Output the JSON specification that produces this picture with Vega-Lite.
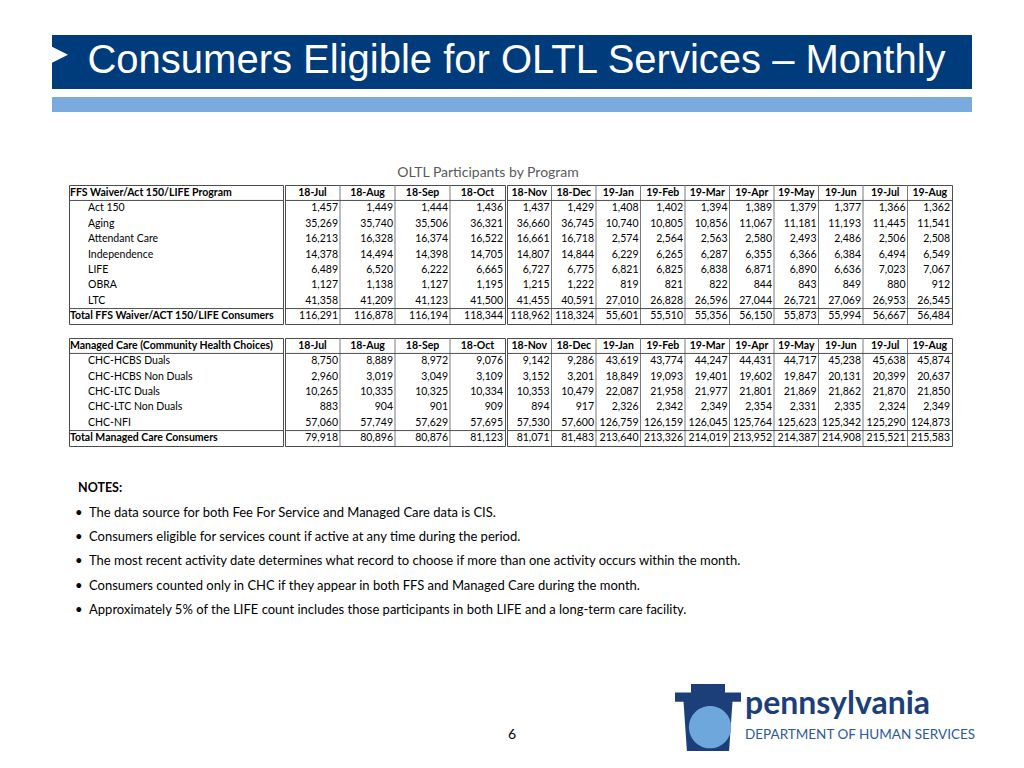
{
 "$schema": "https://vega.github.io/schema/vega-lite/v6.json",
 "padding": {"left": 52, "top": 35, "right": 0, "bottom": 0},
 "background": "white",
 "spacing": 0,
 "config": {
  "view": {"stroke": null},
  "concat": {"spacing": 0},
  "text": {"font": "Lato", "fontSize": 10.5, "baseline": "middle", "fill": "#000000"},
  "rule": {"strokeWidth": 1}
 },
 "datasets": {
  "cells": [
   {"g":"F","r":"Act 150","m":"18-Jul","v":1457},{"g":"F","r":"Act 150","m":"18-Aug","v":1449},{"g":"F","r":"Act 150","m":"18-Sep","v":1444},{"g":"F","r":"Act 150","m":"18-Oct","v":1436},{"g":"F","r":"Act 150","m":"18-Nov","v":1437},{"g":"F","r":"Act 150","m":"18-Dec","v":1429},{"g":"F","r":"Act 150","m":"19-Jan","v":1408},{"g":"F","r":"Act 150","m":"19-Feb","v":1402},{"g":"F","r":"Act 150","m":"19-Mar","v":1394},{"g":"F","r":"Act 150","m":"19-Apr","v":1389},{"g":"F","r":"Act 150","m":"19-May","v":1379},{"g":"F","r":"Act 150","m":"19-Jun","v":1377},{"g":"F","r":"Act 150","m":"19-Jul","v":1366},{"g":"F","r":"Act 150","m":"19-Aug","v":1362},
   {"g":"F","r":"Aging","m":"18-Jul","v":35269},{"g":"F","r":"Aging","m":"18-Aug","v":35740},{"g":"F","r":"Aging","m":"18-Sep","v":35506},{"g":"F","r":"Aging","m":"18-Oct","v":36321},{"g":"F","r":"Aging","m":"18-Nov","v":36660},{"g":"F","r":"Aging","m":"18-Dec","v":36745},{"g":"F","r":"Aging","m":"19-Jan","v":10740},{"g":"F","r":"Aging","m":"19-Feb","v":10805},{"g":"F","r":"Aging","m":"19-Mar","v":10856},{"g":"F","r":"Aging","m":"19-Apr","v":11067},{"g":"F","r":"Aging","m":"19-May","v":11181},{"g":"F","r":"Aging","m":"19-Jun","v":11193},{"g":"F","r":"Aging","m":"19-Jul","v":11445},{"g":"F","r":"Aging","m":"19-Aug","v":11541},
   {"g":"F","r":"Attendant Care","m":"18-Jul","v":16213},{"g":"F","r":"Attendant Care","m":"18-Aug","v":16328},{"g":"F","r":"Attendant Care","m":"18-Sep","v":16374},{"g":"F","r":"Attendant Care","m":"18-Oct","v":16522},{"g":"F","r":"Attendant Care","m":"18-Nov","v":16661},{"g":"F","r":"Attendant Care","m":"18-Dec","v":16718},{"g":"F","r":"Attendant Care","m":"19-Jan","v":2574},{"g":"F","r":"Attendant Care","m":"19-Feb","v":2564},{"g":"F","r":"Attendant Care","m":"19-Mar","v":2563},{"g":"F","r":"Attendant Care","m":"19-Apr","v":2580},{"g":"F","r":"Attendant Care","m":"19-May","v":2493},{"g":"F","r":"Attendant Care","m":"19-Jun","v":2486},{"g":"F","r":"Attendant Care","m":"19-Jul","v":2506},{"g":"F","r":"Attendant Care","m":"19-Aug","v":2508},
   {"g":"F","r":"Independence","m":"18-Jul","v":14378},{"g":"F","r":"Independence","m":"18-Aug","v":14494},{"g":"F","r":"Independence","m":"18-Sep","v":14398},{"g":"F","r":"Independence","m":"18-Oct","v":14705},{"g":"F","r":"Independence","m":"18-Nov","v":14807},{"g":"F","r":"Independence","m":"18-Dec","v":14844},{"g":"F","r":"Independence","m":"19-Jan","v":6229},{"g":"F","r":"Independence","m":"19-Feb","v":6265},{"g":"F","r":"Independence","m":"19-Mar","v":6287},{"g":"F","r":"Independence","m":"19-Apr","v":6355},{"g":"F","r":"Independence","m":"19-May","v":6366},{"g":"F","r":"Independence","m":"19-Jun","v":6384},{"g":"F","r":"Independence","m":"19-Jul","v":6494},{"g":"F","r":"Independence","m":"19-Aug","v":6549},
   {"g":"F","r":"LIFE","m":"18-Jul","v":6489},{"g":"F","r":"LIFE","m":"18-Aug","v":6520},{"g":"F","r":"LIFE","m":"18-Sep","v":6222},{"g":"F","r":"LIFE","m":"18-Oct","v":6665},{"g":"F","r":"LIFE","m":"18-Nov","v":6727},{"g":"F","r":"LIFE","m":"18-Dec","v":6775},{"g":"F","r":"LIFE","m":"19-Jan","v":6821},{"g":"F","r":"LIFE","m":"19-Feb","v":6825},{"g":"F","r":"LIFE","m":"19-Mar","v":6838},{"g":"F","r":"LIFE","m":"19-Apr","v":6871},{"g":"F","r":"LIFE","m":"19-May","v":6890},{"g":"F","r":"LIFE","m":"19-Jun","v":6636},{"g":"F","r":"LIFE","m":"19-Jul","v":7023},{"g":"F","r":"LIFE","m":"19-Aug","v":7067},
   {"g":"F","r":"OBRA","m":"18-Jul","v":1127},{"g":"F","r":"OBRA","m":"18-Aug","v":1138},{"g":"F","r":"OBRA","m":"18-Sep","v":1127},{"g":"F","r":"OBRA","m":"18-Oct","v":1195},{"g":"F","r":"OBRA","m":"18-Nov","v":1215},{"g":"F","r":"OBRA","m":"18-Dec","v":1222},{"g":"F","r":"OBRA","m":"19-Jan","v":819},{"g":"F","r":"OBRA","m":"19-Feb","v":821},{"g":"F","r":"OBRA","m":"19-Mar","v":822},{"g":"F","r":"OBRA","m":"19-Apr","v":844},{"g":"F","r":"OBRA","m":"19-May","v":843},{"g":"F","r":"OBRA","m":"19-Jun","v":849},{"g":"F","r":"OBRA","m":"19-Jul","v":880},{"g":"F","r":"OBRA","m":"19-Aug","v":912},
   {"g":"F","r":"LTC","m":"18-Jul","v":41358},{"g":"F","r":"LTC","m":"18-Aug","v":41209},{"g":"F","r":"LTC","m":"18-Sep","v":41123},{"g":"F","r":"LTC","m":"18-Oct","v":41500},{"g":"F","r":"LTC","m":"18-Nov","v":41455},{"g":"F","r":"LTC","m":"18-Dec","v":40591},{"g":"F","r":"LTC","m":"19-Jan","v":27010},{"g":"F","r":"LTC","m":"19-Feb","v":26828},{"g":"F","r":"LTC","m":"19-Mar","v":26596},{"g":"F","r":"LTC","m":"19-Apr","v":27044},{"g":"F","r":"LTC","m":"19-May","v":26721},{"g":"F","r":"LTC","m":"19-Jun","v":27069},{"g":"F","r":"LTC","m":"19-Jul","v":26953},{"g":"F","r":"LTC","m":"19-Aug","v":26545},
   {"g":"F","r":"Total FFS Waiver/ACT 150/LIFE Consumers","m":"18-Jul","v":116291},{"g":"F","r":"Total FFS Waiver/ACT 150/LIFE Consumers","m":"18-Aug","v":116878},{"g":"F","r":"Total FFS Waiver/ACT 150/LIFE Consumers","m":"18-Sep","v":116194},{"g":"F","r":"Total FFS Waiver/ACT 150/LIFE Consumers","m":"18-Oct","v":118344},{"g":"F","r":"Total FFS Waiver/ACT 150/LIFE Consumers","m":"18-Nov","v":118962},{"g":"F","r":"Total FFS Waiver/ACT 150/LIFE Consumers","m":"18-Dec","v":118324},{"g":"F","r":"Total FFS Waiver/ACT 150/LIFE Consumers","m":"19-Jan","v":55601},{"g":"F","r":"Total FFS Waiver/ACT 150/LIFE Consumers","m":"19-Feb","v":55510},{"g":"F","r":"Total FFS Waiver/ACT 150/LIFE Consumers","m":"19-Mar","v":55356},{"g":"F","r":"Total FFS Waiver/ACT 150/LIFE Consumers","m":"19-Apr","v":56150},{"g":"F","r":"Total FFS Waiver/ACT 150/LIFE Consumers","m":"19-May","v":55873},{"g":"F","r":"Total FFS Waiver/ACT 150/LIFE Consumers","m":"19-Jun","v":55994},{"g":"F","r":"Total FFS Waiver/ACT 150/LIFE Consumers","m":"19-Jul","v":56667},{"g":"F","r":"Total FFS Waiver/ACT 150/LIFE Consumers","m":"19-Aug","v":56484},
   {"g":"M","r":"CHC-HCBS Duals","m":"18-Jul","v":8750},{"g":"M","r":"CHC-HCBS Duals","m":"18-Aug","v":8889},{"g":"M","r":"CHC-HCBS Duals","m":"18-Sep","v":8972},{"g":"M","r":"CHC-HCBS Duals","m":"18-Oct","v":9076},{"g":"M","r":"CHC-HCBS Duals","m":"18-Nov","v":9142},{"g":"M","r":"CHC-HCBS Duals","m":"18-Dec","v":9286},{"g":"M","r":"CHC-HCBS Duals","m":"19-Jan","v":43619},{"g":"M","r":"CHC-HCBS Duals","m":"19-Feb","v":43774},{"g":"M","r":"CHC-HCBS Duals","m":"19-Mar","v":44247},{"g":"M","r":"CHC-HCBS Duals","m":"19-Apr","v":44431},{"g":"M","r":"CHC-HCBS Duals","m":"19-May","v":44717},{"g":"M","r":"CHC-HCBS Duals","m":"19-Jun","v":45238},{"g":"M","r":"CHC-HCBS Duals","m":"19-Jul","v":45638},{"g":"M","r":"CHC-HCBS Duals","m":"19-Aug","v":45874},
   {"g":"M","r":"CHC-HCBS Non Duals","m":"18-Jul","v":2960},{"g":"M","r":"CHC-HCBS Non Duals","m":"18-Aug","v":3019},{"g":"M","r":"CHC-HCBS Non Duals","m":"18-Sep","v":3049},{"g":"M","r":"CHC-HCBS Non Duals","m":"18-Oct","v":3109},{"g":"M","r":"CHC-HCBS Non Duals","m":"18-Nov","v":3152},{"g":"M","r":"CHC-HCBS Non Duals","m":"18-Dec","v":3201},{"g":"M","r":"CHC-HCBS Non Duals","m":"19-Jan","v":18849},{"g":"M","r":"CHC-HCBS Non Duals","m":"19-Feb","v":19093},{"g":"M","r":"CHC-HCBS Non Duals","m":"19-Mar","v":19401},{"g":"M","r":"CHC-HCBS Non Duals","m":"19-Apr","v":19602},{"g":"M","r":"CHC-HCBS Non Duals","m":"19-May","v":19847},{"g":"M","r":"CHC-HCBS Non Duals","m":"19-Jun","v":20131},{"g":"M","r":"CHC-HCBS Non Duals","m":"19-Jul","v":20399},{"g":"M","r":"CHC-HCBS Non Duals","m":"19-Aug","v":20637},
   {"g":"M","r":"CHC-LTC Duals","m":"18-Jul","v":10265},{"g":"M","r":"CHC-LTC Duals","m":"18-Aug","v":10335},{"g":"M","r":"CHC-LTC Duals","m":"18-Sep","v":10325},{"g":"M","r":"CHC-LTC Duals","m":"18-Oct","v":10334},{"g":"M","r":"CHC-LTC Duals","m":"18-Nov","v":10353},{"g":"M","r":"CHC-LTC Duals","m":"18-Dec","v":10479},{"g":"M","r":"CHC-LTC Duals","m":"19-Jan","v":22087},{"g":"M","r":"CHC-LTC Duals","m":"19-Feb","v":21958},{"g":"M","r":"CHC-LTC Duals","m":"19-Mar","v":21977},{"g":"M","r":"CHC-LTC Duals","m":"19-Apr","v":21801},{"g":"M","r":"CHC-LTC Duals","m":"19-May","v":21869},{"g":"M","r":"CHC-LTC Duals","m":"19-Jun","v":21862},{"g":"M","r":"CHC-LTC Duals","m":"19-Jul","v":21870},{"g":"M","r":"CHC-LTC Duals","m":"19-Aug","v":21850},
   {"g":"M","r":"CHC-LTC Non Duals","m":"18-Jul","v":883},{"g":"M","r":"CHC-LTC Non Duals","m":"18-Aug","v":904},{"g":"M","r":"CHC-LTC Non Duals","m":"18-Sep","v":901},{"g":"M","r":"CHC-LTC Non Duals","m":"18-Oct","v":909},{"g":"M","r":"CHC-LTC Non Duals","m":"18-Nov","v":894},{"g":"M","r":"CHC-LTC Non Duals","m":"18-Dec","v":917},{"g":"M","r":"CHC-LTC Non Duals","m":"19-Jan","v":2326},{"g":"M","r":"CHC-LTC Non Duals","m":"19-Feb","v":2342},{"g":"M","r":"CHC-LTC Non Duals","m":"19-Mar","v":2349},{"g":"M","r":"CHC-LTC Non Duals","m":"19-Apr","v":2354},{"g":"M","r":"CHC-LTC Non Duals","m":"19-May","v":2331},{"g":"M","r":"CHC-LTC Non Duals","m":"19-Jun","v":2335},{"g":"M","r":"CHC-LTC Non Duals","m":"19-Jul","v":2324},{"g":"M","r":"CHC-LTC Non Duals","m":"19-Aug","v":2349},
   {"g":"M","r":"CHC-NFI","m":"18-Jul","v":57060},{"g":"M","r":"CHC-NFI","m":"18-Aug","v":57749},{"g":"M","r":"CHC-NFI","m":"18-Sep","v":57629},{"g":"M","r":"CHC-NFI","m":"18-Oct","v":57695},{"g":"M","r":"CHC-NFI","m":"18-Nov","v":57530},{"g":"M","r":"CHC-NFI","m":"18-Dec","v":57600},{"g":"M","r":"CHC-NFI","m":"19-Jan","v":126759},{"g":"M","r":"CHC-NFI","m":"19-Feb","v":126159},{"g":"M","r":"CHC-NFI","m":"19-Mar","v":126045},{"g":"M","r":"CHC-NFI","m":"19-Apr","v":125764},{"g":"M","r":"CHC-NFI","m":"19-May","v":125623},{"g":"M","r":"CHC-NFI","m":"19-Jun","v":125342},{"g":"M","r":"CHC-NFI","m":"19-Jul","v":125290},{"g":"M","r":"CHC-NFI","m":"19-Aug","v":124873},
   {"g":"M","r":"Total Managed Care Consumers","m":"18-Jul","v":79918},{"g":"M","r":"Total Managed Care Consumers","m":"18-Aug","v":80896},{"g":"M","r":"Total Managed Care Consumers","m":"18-Sep","v":80876},{"g":"M","r":"Total Managed Care Consumers","m":"18-Oct","v":81123},{"g":"M","r":"Total Managed Care Consumers","m":"18-Nov","v":81071},{"g":"M","r":"Total Managed Care Consumers","m":"18-Dec","v":81483},{"g":"M","r":"Total Managed Care Consumers","m":"19-Jan","v":213640},{"g":"M","r":"Total Managed Care Consumers","m":"19-Feb","v":213326},{"g":"M","r":"Total Managed Care Consumers","m":"19-Mar","v":214019},{"g":"M","r":"Total Managed Care Consumers","m":"19-Apr","v":213952},{"g":"M","r":"Total Managed Care Consumers","m":"19-May","v":214387},{"g":"M","r":"Total Managed Care Consumers","m":"19-Jun","v":214908},{"g":"M","r":"Total Managed Care Consumers","m":"19-Jul","v":215521},{"g":"M","r":"Total Managed Care Consumers","m":"19-Aug","v":215583}
  ],
  "notes": [
   {"i":0,"t":"NOTES:"},
   {"i":1,"t":"•\u2002The data source for both Fee For Service and Managed Care data is CIS."},
   {"i":2,"t":"•\u2002Consumers eligible for services count if active at any time during the period."},
   {"i":3,"t":"•\u2002The most recent activity date determines what record to choose if more than one activity occurs within the month."},
   {"i":4,"t":"•\u2002Consumers counted only in CHC if they appear in both FFS and Managed Care during the month."},
   {"i":5,"t":"•\u2002Approximately 5% of the LIFE count includes those participants in both LIFE and a long-term care facility."}
  ]
 },
 "vconcat": [
  {"hconcat": [
    {"width": 16, "height": 54, "view": {"fill": "#003b7b", "stroke": null}, "data": {"values": [{}]},
     "mark": {"type": "point", "shape": "M-1,-1.9L1,-0.9L-1,0.1Z", "size": 256, "filled": true, "fill": "#ffffff", "opacity": 1, "strokeWidth": 0}},
    {"width": 904, "height": 54, "view": {"fill": "#003b7b", "stroke": null}, "data": {"values": [{}]},
     "mark": {"type": "text", "text": "Consumers Eligible for OLTL Services – Monthly", "font": "Liberation Sans", "fontSize": 40, "fill": "#ffffff", "dx": -3.5, "dy": -1}}
   ], "spacing": 0},
  {"width": 920, "height": 8, "data": {"values": []}, "mark": {"type": "text", "text": ""}},
  {"width": 920, "height": 15, "view": {"fill": "#7aaade", "stroke": null}, "data": {"values": []}, "mark": {"type": "text", "text": ""}},
  {"width": 920, "height": 72, "data": {"values": [{}]}, "mark": {"type": "text", "text": "OLTL Participants by Program", "fontSize": 14, "fill": "#595959", "dx": -24, "dy": 25}},
  {"hconcat": [
    {"width": 16, "height": 139, "data": {"values": []}, "mark": {"type": "text", "text": ""}},
    {"width": 214, "height": 139, "view": {"stroke": "#4d4d4d"}, "data": {"name": "cells"},
     "layer": [
      {"transform": [{"filter": "datum.g=='F' && datum.m=='18-Jul' && datum.r!='Total FFS Waiver/ACT 150/LIFE Consumers'"}],
       "mark": {"type": "text", "align": "left", "dx": 19},
       "encoding": {
        "x": {"datum": "L", "type": "nominal", "axis": null, "bandPosition": 0, "scale": {"type": "band", "paddingInner": 0, "paddingOuter": 0}},
        "y": {"field": "r", "type": "nominal", "axis": null, "scale": {"type": "band", "domain": ["H","Act 150","Aging","Attendant Care","Independence","LIFE","OBRA","LTC","Total FFS Waiver/ACT 150/LIFE Consumers"], "paddingInner": 0, "paddingOuter": 0}},
        "text": {"field": "r"}}},
      {"transform": [{"filter": "datum.g=='F' && datum.m=='18-Jul' && datum.r=='Total FFS Waiver/ACT 150/LIFE Consumers'"}],
       "mark": {"type": "text", "align": "left", "dx": 1, "fontWeight": "bold"},
       "encoding": {
        "x": {"datum": "L", "type": "nominal", "axis": null, "bandPosition": 0},
        "y": {"field": "r", "type": "nominal", "axis": null},
        "text": {"field": "r"}}},
      {"data": {"values": [{"t": "FFS Waiver/Act 150/LIFE Program"}]},
       "mark": {"type": "text", "align": "left", "dx": 1, "fontWeight": "bold"},
       "encoding": {
        "x": {"datum": "L", "type": "nominal", "axis": null, "bandPosition": 0},
        "y": {"datum": "H", "type": "nominal", "axis": null},
        "text": {"field": "t"}}},
      {"data": {"values": [{}]}, "mark": {"type": "rule", "color": "#4d4d4d"}, "encoding": {"y": {"datum": "H", "type": "nominal", "bandPosition": 1, "axis": null}}},
      {"data": {"values": [{}]}, "mark": {"type": "rule", "color": "#4d4d4d"}, "encoding": {"y": {"datum": "Total FFS Waiver/ACT 150/LIFE Consumers", "type": "nominal", "bandPosition": 0, "axis": null}}}
     ]},
    {"width": 220, "height": 139, "view": {"stroke": "#4d4d4d"}, "data": {"name": "cells"},
     "layer": [
      {"transform": [{"filter": "datum.g=='F' && indexof(['18-Jul','18-Aug','18-Sep','18-Oct'], datum.m)>=0"}],
       "mark": {"type": "text", "align": "right", "dx": -2},
       "encoding": {
        "x": {"field": "m", "type": "nominal", "axis": null, "bandPosition": 1, "scale": {"type": "band", "domain": ["18-Jul","18-Aug","18-Sep","18-Oct"], "paddingInner": 0, "paddingOuter": 0}},
        "y": {"field": "r", "type": "nominal", "axis": null, "scale": {"type": "band", "domain": ["H","Act 150","Aging","Attendant Care","Independence","LIFE","OBRA","LTC","Total FFS Waiver/ACT 150/LIFE Consumers"], "paddingInner": 0, "paddingOuter": 0}},
        "text": {"field": "v", "type": "quantitative", "format": ","}}},
      {"transform": [{"filter": "datum.g=='F' && datum.r=='Act 150' && indexof(['18-Jul','18-Aug','18-Sep','18-Oct'], datum.m)>=0"}],
       "mark": {"type": "text", "fontWeight": "bold"},
       "encoding": {
        "x": {"field": "m", "type": "nominal", "axis": null, "bandPosition": 0.5},
        "y": {"datum": "H", "type": "nominal", "axis": null},
        "text": {"field": "m"}}},
      {"transform": [{"filter": "datum.g=='F' && datum.r=='Act 150' && indexof(['18-Jul','18-Aug','18-Sep','18-Oct'], datum.m)>=1"}],
       "mark": {"type": "rule", "color": "#7a7a7a"},
       "encoding": {"x": {"field": "m", "type": "nominal", "axis": null, "bandPosition": 0}}},
      {"data": {"values": [{}]}, "mark": {"type": "rule", "color": "#4d4d4d"}, "encoding": {"y": {"datum": "H", "type": "nominal", "bandPosition": 1, "axis": null}}},
      {"data": {"values": [{}]}, "mark": {"type": "rule", "color": "#4d4d4d"}, "encoding": {"y": {"datum": "Total FFS Waiver/ACT 150/LIFE Consumers", "type": "nominal", "bandPosition": 0, "axis": null}}}
     ]},
    {"width": 445, "height": 139, "view": {"stroke": "#4d4d4d"}, "data": {"name": "cells"},
     "layer": [
      {"transform": [{"filter": "datum.g=='F' && indexof(['18-Nov','18-Dec','19-Jan','19-Feb','19-Mar','19-Apr','19-May','19-Jun','19-Jul','19-Aug'], datum.m)>=0"}],
       "mark": {"type": "text", "align": "right", "dx": -2},
       "encoding": {
        "x": {"field": "m", "type": "nominal", "axis": null, "bandPosition": 1, "scale": {"type": "band", "domain": ["18-Nov","18-Dec","19-Jan","19-Feb","19-Mar","19-Apr","19-May","19-Jun","19-Jul","19-Aug"], "paddingInner": 0, "paddingOuter": 0}},
        "y": {"field": "r", "type": "nominal", "axis": null, "scale": {"type": "band", "domain": ["H","Act 150","Aging","Attendant Care","Independence","LIFE","OBRA","LTC","Total FFS Waiver/ACT 150/LIFE Consumers"], "paddingInner": 0, "paddingOuter": 0}},
        "text": {"field": "v", "type": "quantitative", "format": ","}}},
      {"transform": [{"filter": "datum.g=='F' && datum.r=='Act 150' && indexof(['18-Nov','18-Dec','19-Jan','19-Feb','19-Mar','19-Apr','19-May','19-Jun','19-Jul','19-Aug'], datum.m)>=0"}],
       "mark": {"type": "text", "fontWeight": "bold"},
       "encoding": {
        "x": {"field": "m", "type": "nominal", "axis": null, "bandPosition": 0.5},
        "y": {"datum": "H", "type": "nominal", "axis": null},
        "text": {"field": "m"}}},
      {"transform": [{"filter": "datum.g=='F' && datum.r=='Act 150' && indexof(['18-Nov','18-Dec','19-Jan','19-Feb','19-Mar','19-Apr','19-May','19-Jun','19-Jul','19-Aug'], datum.m)>=1"}],
       "mark": {"type": "rule", "color": "#7a7a7a"},
       "encoding": {"x": {"field": "m", "type": "nominal", "axis": null, "bandPosition": 0}}},
      {"data": {"values": [{}]}, "mark": {"type": "rule", "color": "#4d4d4d"}, "encoding": {"y": {"datum": "H", "type": "nominal", "bandPosition": 1, "axis": null}}},
      {"data": {"values": [{}]}, "mark": {"type": "rule", "color": "#4d4d4d"}, "encoding": {"y": {"datum": "Total FFS Waiver/ACT 150/LIFE Consumers", "type": "nominal", "bandPosition": 0, "axis": null}}}
     ]}
   ], "spacing": 0},
  {"width": 920, "height": 12, "data": {"values": []}, "mark": {"type": "text", "text": ""}},
  {"hconcat": [
    {"width": 16, "height": 108, "data": {"values": []}, "mark": {"type": "text", "text": ""}},
    {"width": 214, "height": 108, "view": {"stroke": "#4d4d4d"}, "data": {"name": "cells"},
     "layer": [
      {"transform": [{"filter": "datum.g=='M' && datum.m=='18-Jul' && datum.r!='Total Managed Care Consumers'"}],
       "mark": {"type": "text", "align": "left", "dx": 19},
       "encoding": {
        "x": {"datum": "L", "type": "nominal", "axis": null, "bandPosition": 0, "scale": {"type": "band", "paddingInner": 0, "paddingOuter": 0}},
        "y": {"field": "r", "type": "nominal", "axis": null, "scale": {"type": "band", "domain": ["H","CHC-HCBS Duals","CHC-HCBS Non Duals","CHC-LTC Duals","CHC-LTC Non Duals","CHC-NFI","Total Managed Care Consumers"], "paddingInner": 0, "paddingOuter": 0}},
        "text": {"field": "r"}}},
      {"transform": [{"filter": "datum.g=='M' && datum.m=='18-Jul' && datum.r=='Total Managed Care Consumers'"}],
       "mark": {"type": "text", "align": "left", "dx": 1, "fontWeight": "bold"},
       "encoding": {
        "x": {"datum": "L", "type": "nominal", "axis": null, "bandPosition": 0},
        "y": {"field": "r", "type": "nominal", "axis": null},
        "text": {"field": "r"}}},
      {"data": {"values": [{"t": "Managed Care (Community Health Choices)"}]},
       "mark": {"type": "text", "align": "left", "dx": 1, "fontWeight": "bold"},
       "encoding": {
        "x": {"datum": "L", "type": "nominal", "axis": null, "bandPosition": 0},
        "y": {"datum": "H", "type": "nominal", "axis": null},
        "text": {"field": "t"}}},
      {"data": {"values": [{}]}, "mark": {"type": "rule", "color": "#4d4d4d"}, "encoding": {"y": {"datum": "H", "type": "nominal", "bandPosition": 1, "axis": null}}},
      {"data": {"values": [{}]}, "mark": {"type": "rule", "color": "#4d4d4d"}, "encoding": {"y": {"datum": "Total Managed Care Consumers", "type": "nominal", "bandPosition": 0, "axis": null}}}
     ]},
    {"width": 220, "height": 108, "view": {"stroke": "#4d4d4d"}, "data": {"name": "cells"},
     "layer": [
      {"transform": [{"filter": "datum.g=='M' && indexof(['18-Jul','18-Aug','18-Sep','18-Oct'], datum.m)>=0"}],
       "mark": {"type": "text", "align": "right", "dx": -2},
       "encoding": {
        "x": {"field": "m", "type": "nominal", "axis": null, "bandPosition": 1, "scale": {"type": "band", "domain": ["18-Jul","18-Aug","18-Sep","18-Oct"], "paddingInner": 0, "paddingOuter": 0}},
        "y": {"field": "r", "type": "nominal", "axis": null, "scale": {"type": "band", "domain": ["H","CHC-HCBS Duals","CHC-HCBS Non Duals","CHC-LTC Duals","CHC-LTC Non Duals","CHC-NFI","Total Managed Care Consumers"], "paddingInner": 0, "paddingOuter": 0}},
        "text": {"field": "v", "type": "quantitative", "format": ","}}},
      {"transform": [{"filter": "datum.g=='M' && datum.r=='CHC-NFI' && indexof(['18-Jul','18-Aug','18-Sep','18-Oct'], datum.m)>=0"}],
       "mark": {"type": "text", "fontWeight": "bold"},
       "encoding": {
        "x": {"field": "m", "type": "nominal", "axis": null, "bandPosition": 0.5},
        "y": {"datum": "H", "type": "nominal", "axis": null},
        "text": {"field": "m"}}},
      {"transform": [{"filter": "datum.g=='M' && datum.r=='CHC-NFI' && indexof(['18-Jul','18-Aug','18-Sep','18-Oct'], datum.m)>=1"}],
       "mark": {"type": "rule", "color": "#7a7a7a"},
       "encoding": {"x": {"field": "m", "type": "nominal", "axis": null, "bandPosition": 0}}},
      {"data": {"values": [{}]}, "mark": {"type": "rule", "color": "#4d4d4d"}, "encoding": {"y": {"datum": "H", "type": "nominal", "bandPosition": 1, "axis": null}}},
      {"data": {"values": [{}]}, "mark": {"type": "rule", "color": "#4d4d4d"}, "encoding": {"y": {"datum": "Total Managed Care Consumers", "type": "nominal", "bandPosition": 0, "axis": null}}}
     ]},
    {"width": 445, "height": 108, "view": {"stroke": "#4d4d4d"}, "data": {"name": "cells"},
     "layer": [
      {"transform": [{"filter": "datum.g=='M' && indexof(['18-Nov','18-Dec','19-Jan','19-Feb','19-Mar','19-Apr','19-May','19-Jun','19-Jul','19-Aug'], datum.m)>=0"}],
       "mark": {"type": "text", "align": "right", "dx": -2},
       "encoding": {
        "x": {"field": "m", "type": "nominal", "axis": null, "bandPosition": 1, "scale": {"type": "band", "domain": ["18-Nov","18-Dec","19-Jan","19-Feb","19-Mar","19-Apr","19-May","19-Jun","19-Jul","19-Aug"], "paddingInner": 0, "paddingOuter": 0}},
        "y": {"field": "r", "type": "nominal", "axis": null, "scale": {"type": "band", "domain": ["H","CHC-HCBS Duals","CHC-HCBS Non Duals","CHC-LTC Duals","CHC-LTC Non Duals","CHC-NFI","Total Managed Care Consumers"], "paddingInner": 0, "paddingOuter": 0}},
        "text": {"field": "v", "type": "quantitative", "format": ","}}},
      {"transform": [{"filter": "datum.g=='M' && datum.r=='CHC-NFI' && indexof(['18-Nov','18-Dec','19-Jan','19-Feb','19-Mar','19-Apr','19-May','19-Jun','19-Jul','19-Aug'], datum.m)>=0"}],
       "mark": {"type": "text", "fontWeight": "bold"},
       "encoding": {
        "x": {"field": "m", "type": "nominal", "axis": null, "bandPosition": 0.5},
        "y": {"datum": "H", "type": "nominal", "axis": null},
        "text": {"field": "m"}}},
      {"transform": [{"filter": "datum.g=='M' && datum.r=='CHC-NFI' && indexof(['18-Nov','18-Dec','19-Jan','19-Feb','19-Mar','19-Apr','19-May','19-Jun','19-Jul','19-Aug'], datum.m)>=1"}],
       "mark": {"type": "rule", "color": "#7a7a7a"},
       "encoding": {"x": {"field": "m", "type": "nominal", "axis": null, "bandPosition": 0}}},
      {"data": {"values": [{}]}, "mark": {"type": "rule", "color": "#4d4d4d"}, "encoding": {"y": {"datum": "H", "type": "nominal", "bandPosition": 1, "axis": null}}},
      {"data": {"values": [{}]}, "mark": {"type": "rule", "color": "#4d4d4d"}, "encoding": {"y": {"datum": "Total Managed Care Consumers", "type": "nominal", "bandPosition": 0, "axis": null}}}
     ]}
   ], "spacing": 0},
  {"width": 920, "height": 29, "data": {"values": []}, "mark": {"type": "text", "text": ""}},
  {"width": 920, "height": 146, "data": {"name": "notes"},
   "layer": [
    {"transform": [{"filter": "datum.i==0"}],
     "mark": {"type": "text", "align": "left", "fontSize": 12.5, "fontWeight": "bold", "dx": 26},
     "encoding": {
      "x": {"datum": "L", "type": "nominal", "axis": null, "bandPosition": 0, "scale": {"type": "band", "paddingInner": 0, "paddingOuter": 0}},
      "y": {"field": "i", "type": "ordinal", "axis": null, "scale": {"type": "band", "domain": [0,1,2,3,4,5], "paddingInner": 0, "paddingOuter": 0}},
      "text": {"field": "t"}}},
    {"transform": [{"filter": "datum.i>0"}],
     "mark": {"type": "text", "align": "left", "fontSize": 13, "dx": 23},
     "encoding": {
      "x": {"datum": "L", "type": "nominal", "axis": null, "bandPosition": 0},
      "y": {"field": "i", "type": "ordinal", "axis": null},
      "text": {"field": "t"}}}
   ]},
  {"width": 920, "height": 60, "data": {"values": []}, "mark": {"type": "text", "text": ""}},
  {"hconcat": [
    {"width": 621, "height": 70, "data": {"values": [{}]}, "mark": {"type": "text", "text": "6", "fontSize": 14, "dx": 149.5, "dy": 18}},
    {"width": 70, "height": 70, "data": {"values": [{}]},
     "layer": [
      {"mark": {"type": "point", "shape": "M-0.97,-0.72L-0.5,-0.72L-0.5,-0.97L0.5,-0.97L0.5,-0.72L0.97,-0.72L0.97,-0.45L0.72,-0.45L0.62,1L-0.62,1L-0.72,-0.45L-0.97,-0.45Z", "size": 4624, "filled": true, "fill": "#1c3f7a", "opacity": 1, "strokeWidth": 0}},
      {"mark": {"type": "point", "shape": "M-0.56,0.3A0.62,0.62 0 1,0 0.68,0.3A0.62,0.62 0 1,0 -0.56,0.3Z", "size": 4624, "filled": true, "fill": "#6da7dc", "opacity": 1, "strokeWidth": 0}}
     ]},
    {"width": 232, "height": 70, "data": {"values": [{}]},
     "layer": [
      {"mark": {"type": "text", "text": "pennsylvania", "align": "left", "fontSize": 32, "fontWeight": "bold", "fill": "#1c3f7a", "dx": 2, "dy": -13},
       "encoding": {"x": {"datum": "L", "type": "nominal", "axis": null, "bandPosition": 0, "scale": {"type": "band", "paddingInner": 0, "paddingOuter": 0}}}},
      {"mark": {"type": "text", "text": "DEPARTMENT OF HUMAN SERVICES", "align": "left", "fontSize": 13.5, "fill": "#2a5a9e", "dx": 2, "dy": 18},
       "encoding": {"x": {"datum": "L", "type": "nominal", "axis": null, "bandPosition": 0}}}
     ]}
   ], "spacing": 0}
 ]
}
